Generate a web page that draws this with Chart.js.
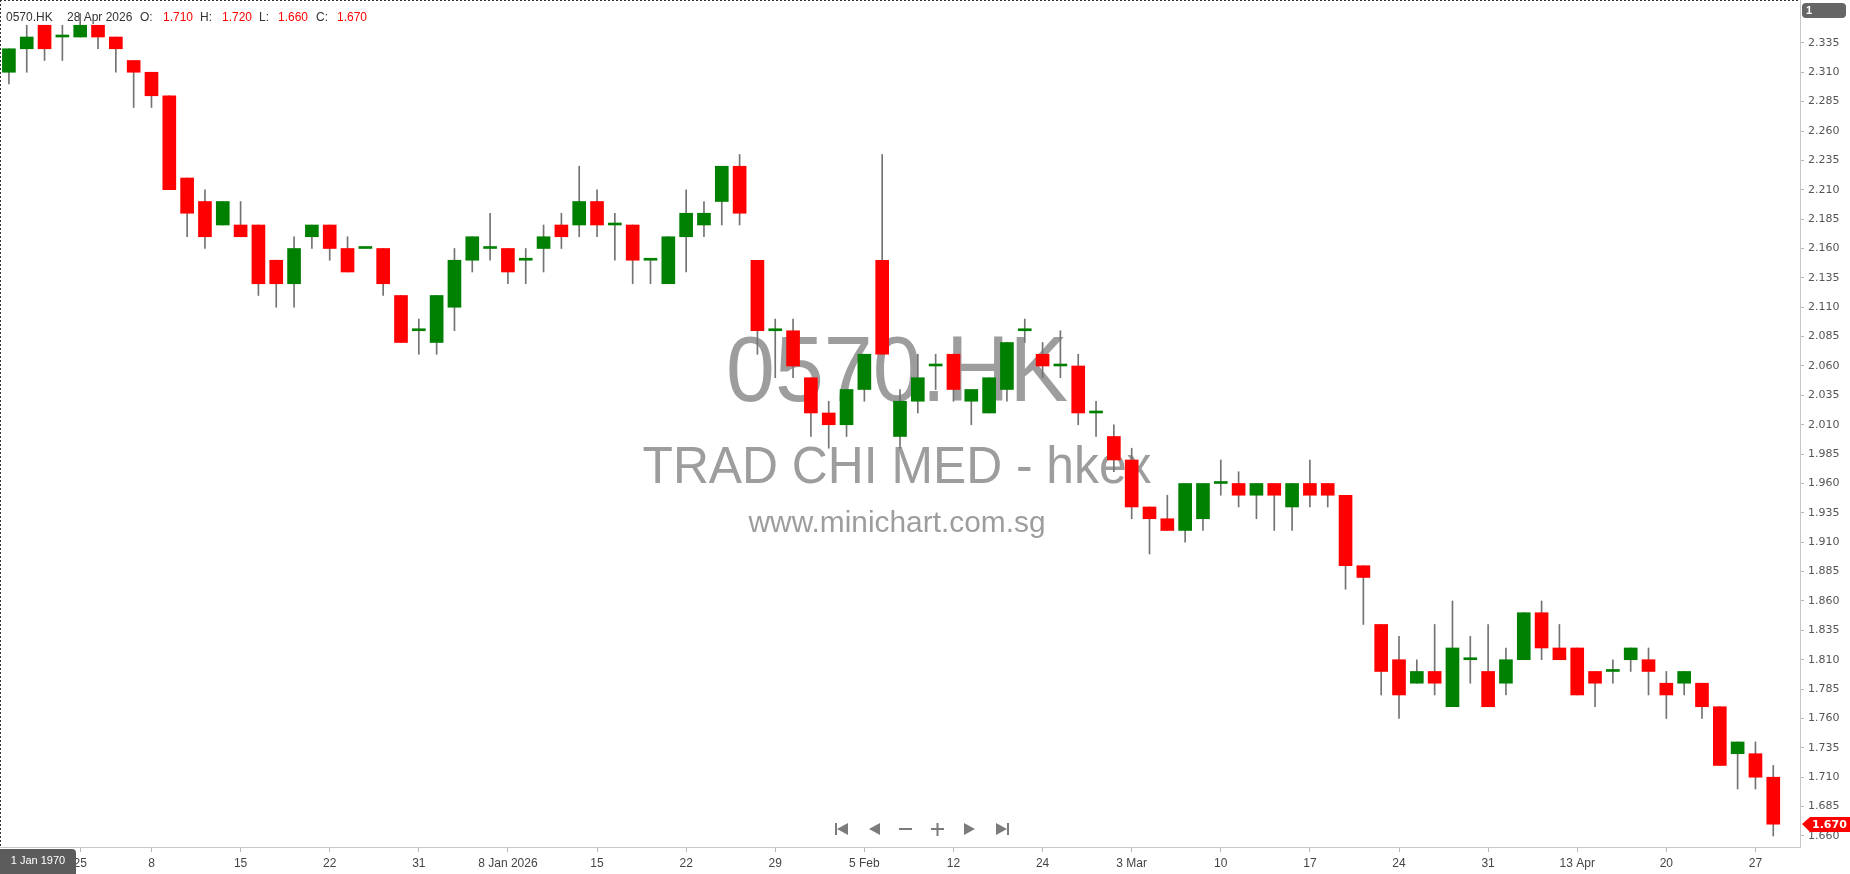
<!DOCTYPE html>
<html>
<head>
<meta charset="utf-8">
<title>0570.HK</title>
<script src="https://cdn.jsdelivr.net/npm/chart.js@4.4.1/dist/chart.umd.min.js"></script>
<style>
  html, body { margin: 0; padding: 0; background: #fff; }
  #wrap { width: 1850px; height: 874px; position: relative; }
</style>
</head>
<body>
<div id="wrap"><canvas id="chart" width="1850" height="874"></canvas></div>
<script>
/* ---------------- DATA ---------------- */

const symbol = "0570.HK";
const lastDate = "28 Apr 2026";

const opens = [
  2.31, 2.33, 2.35, 2.34, 2.34, 2.35, 2.34, 2.32, 2.31, 2.29,
  2.22, 2.20, 2.18, 2.18, 2.18, 2.15, 2.13, 2.17, 2.18, 2.16,
  2.16, 2.16, 2.12, 2.09, 2.08, 2.11, 2.15, 2.16, 2.16, 2.15,
  2.16, 2.18, 2.18, 2.20, 2.18, 2.18, 2.15, 2.13, 2.17, 2.18,
  2.20, 2.23, 2.15, 2.09, 2.09, 2.05, 2.02, 2.01, 2.04, 2.15,
  2.00, 2.03, 2.06, 2.07, 2.03, 2.02, 2.04, 2.09, 2.07, 2.06,
  2.06, 2.02, 2.00, 1.98, 1.94, 1.93, 1.92, 1.93, 1.96, 1.96,
  1.95, 1.96, 1.94, 1.96, 1.96, 1.95, 1.89, 1.84, 1.81, 1.79,
  1.80, 1.77, 1.81, 1.80, 1.79, 1.81, 1.85, 1.82, 1.82, 1.80,
  1.80, 1.81, 1.81, 1.79, 1.79, 1.79, 1.77, 1.73, 1.73, 1.71
];
const highs = [
  2.33, 2.35, 2.35, 2.35, 2.36, 2.35, 2.34, 2.32, 2.31, 2.29,
  2.22, 2.21, 2.20, 2.20, 2.18, 2.15, 2.17, 2.18, 2.18, 2.17,
  2.16, 2.16, 2.12, 2.10, 2.12, 2.16, 2.17, 2.19, 2.16, 2.16,
  2.18, 2.19, 2.23, 2.21, 2.19, 2.18, 2.15, 2.17, 2.21, 2.20,
  2.23, 2.24, 2.15, 2.10, 2.10, 2.05, 2.03, 2.04, 2.07, 2.24,
  2.04, 2.07, 2.07, 2.07, 2.04, 2.05, 2.08, 2.10, 2.08, 2.09,
  2.07, 2.03, 2.01, 1.99, 1.94, 1.95, 1.96, 1.96, 1.98, 1.97,
  1.96, 1.96, 1.96, 1.98, 1.96, 1.95, 1.89, 1.84, 1.83, 1.81,
  1.84, 1.86, 1.83, 1.84, 1.82, 1.85, 1.86, 1.84, 1.82, 1.80,
  1.81, 1.82, 1.82, 1.80, 1.80, 1.79, 1.77, 1.74, 1.74, 1.72
];
const lows = [
  2.30, 2.31, 2.32, 2.32, 2.34, 2.33, 2.31, 2.28, 2.28, 2.21,
  2.17, 2.16, 2.18, 2.17, 2.12, 2.11, 2.11, 2.16, 2.15, 2.14,
  2.16, 2.12, 2.08, 2.07, 2.07, 2.09, 2.14, 2.15, 2.13, 2.13,
  2.14, 2.16, 2.17, 2.17, 2.15, 2.13, 2.13, 2.13, 2.14, 2.17,
  2.18, 2.18, 2.07, 2.05, 2.05, 2.00, 1.99, 2.00, 2.03, 2.07,
  1.99, 2.02, 2.04, 2.03, 2.01, 2.02, 2.03, 2.08, 2.05, 2.05,
  2.01, 2.00, 1.97, 1.93, 1.90, 1.92, 1.91, 1.92, 1.95, 1.94,
  1.93, 1.92, 1.92, 1.94, 1.94, 1.87, 1.84, 1.78, 1.76, 1.79,
  1.78, 1.77, 1.79, 1.77, 1.78, 1.81, 1.81, 1.81, 1.78, 1.77,
  1.79, 1.80, 1.78, 1.76, 1.78, 1.76, 1.72, 1.70, 1.70, 1.66
];
const closes = [
  2.33, 2.34, 2.33, 2.34, 2.35, 2.34, 2.33, 2.31, 2.29, 2.21,
  2.19, 2.17, 2.20, 2.17, 2.13, 2.13, 2.16, 2.18, 2.16, 2.14,
  2.16, 2.13, 2.08, 2.09, 2.12, 2.15, 2.17, 2.16, 2.14, 2.15,
  2.17, 2.17, 2.20, 2.18, 2.18, 2.15, 2.15, 2.17, 2.19, 2.19,
  2.23, 2.19, 2.09, 2.09, 2.06, 2.02, 2.01, 2.04, 2.07, 2.07,
  2.03, 2.05, 2.06, 2.04, 2.04, 2.05, 2.08, 2.09, 2.06, 2.06,
  2.02, 2.02, 1.98, 1.94, 1.93, 1.92, 1.96, 1.96, 1.96, 1.95,
  1.96, 1.95, 1.96, 1.95, 1.95, 1.89, 1.88, 1.80, 1.78, 1.80,
  1.79, 1.82, 1.81, 1.77, 1.81, 1.85, 1.82, 1.81, 1.78, 1.79,
  1.80, 1.82, 1.80, 1.78, 1.80, 1.77, 1.72, 1.74, 1.71, 1.67
];

// date axis: candle slot -> label
const tickPos  = [4, 8, 13, 18, 23, 28, 33, 38, 43, 48, 53, 58, 63, 68, 73, 78, 83, 88, 93, 98];
const tickText = ["25", "8", "15", "22", "31", "8 Jan 2026", "15", "22", "29", "5 Feb",
                  "12", "24", "3 Mar", "10", "17", "24", "31", "13 Apr", "20", "27"];

// price axis
const priceTicks = [
  1.660, 1.685, 1.710, 1.735, 1.760, 1.785, 1.810, 1.835, 1.860, 1.885,
  1.910, 1.935, 1.960, 1.985, 2.010, 2.035, 2.060, 2.085, 2.110, 2.135,
  2.160, 2.185, 2.210, 2.235, 2.260, 2.285, 2.310, 2.335
];
const priceMin = 1.6506;
const priceMax = 2.3715;

const watermark = ["0570.HK", "TRAD CHI MED - hkex", "www.minichart.com.sg"];

/* ---------------- STYLE ---------------- */

const UP = "#008000";
const DOWN = "#ff0000";
const WICK = "#737373";
const AXIS = "#c6c6c6";
const SANS = "'Liberation Sans', Arial, sans-serif";

/* ---------------- BUILD ---------------- */

// one spare slot on the right, like the original
const slots = opens.map((_, i) => String(i)).concat([""]);
const bodies = opens.map((o, i) => [o, closes[i]]);
const wicks = lows.map((l, i) => [l, highs[i]]);
const bodyColor = ctx => closes[ctx.dataIndex] >= opens[ctx.dataIndex] ? UP : DOWN;

/* ---------------- PLUGINS ---------------- */

const underlay = {
  id: "underlay",
  beforeDatasetsDraw(chart) {
    const ctx = chart.ctx;
    ctx.save();

    // watermark
    ctx.fillStyle = "#9d9d9d";
    ctx.textAlign = "center";
    ctx.textBaseline = "alphabetic";
    const marks = [
      { size: 92, base: 401, width: 342 },
      { size: 51, base: 483, width: 509 },
      { size: 30, base: 532, width: 297 }
    ];
    watermark.forEach((t, i) => {
      const m = marks[i];
      ctx.font = m.size + "px " + SANS;
      const w = ctx.measureText(t).width;
      ctx.save();
      ctx.translate(897, m.base);
      ctx.scale(m.width / w, 1);
      ctx.fillText(t, 0, 0);
      ctx.restore();
    });

    // OHLC header
    const n = closes.length - 1;
    const parts = [
      [symbol, "#333", 6],
      [lastDate, "#333", 67],
      ["O:", "#333", 140], [opens[n].toFixed(3), DOWN, 163],
      ["H:", "#333", 200], [highs[n].toFixed(3), DOWN, 222],
      ["L:", "#333", 259], [lows[n].toFixed(3), DOWN, 278],
      ["C:", "#333", 316], [closes[n].toFixed(3), DOWN, 337]
    ];
    ctx.font = "12px " + SANS;
    ctx.textAlign = "left";
    ctx.textBaseline = "middle";
    parts.forEach(p => {
      ctx.fillStyle = p[1];
      ctx.fillText(p[0], p[2], 18);
    });
    ctx.restore();
  }
};

function roundBox(ctx, x, y, w, h, r) {
  ctx.beginPath();
  ctx.roundRect(x, y, w, h, r);
  ctx.fill();
}

function tri(ctx, x, y, dir) {
  ctx.beginPath();
  ctx.moveTo(x, y - 6);
  ctx.lineTo(x + dir * 11, y);
  ctx.lineTo(x, y + 6);
  ctx.closePath();
  ctx.fill();
}

const overlay = {
  id: "overlay",
  afterDraw(chart) {
    const ctx = chart.ctx;
    const area = chart.chartArea;
    ctx.save();

    // dashed frame (top + left)
    ctx.strokeStyle = "#333";
    ctx.lineWidth = 1;
    ctx.setLineDash([2, 2]);
    ctx.beginPath();
    ctx.moveTo(0, 0.5);
    ctx.lineTo(area.right, 0.5);
    ctx.moveTo(0.5, 0);
    ctx.lineTo(0.5, area.bottom);
    ctx.stroke();
    ctx.setLineDash([]);

    // "1" box top right
    ctx.fillStyle = "#666";
    roundBox(ctx, 1802, 3, 44, 15, 4);
    ctx.fillStyle = "#fff";
    ctx.font = "bold 11px " + SANS;
    ctx.textAlign = "left";
    ctx.textBaseline = "middle";
    ctx.fillText("1", 1806, 11);

    // last price tag
    const yScale = chart.scales.y;
    const last = closes[closes.length - 1];
    const py = Math.round(yScale.getPixelForValue(last));
    ctx.fillStyle = DOWN;
    ctx.beginPath();
    ctx.moveTo(1802, py);
    ctx.lineTo(1810, py - 7);
    ctx.lineTo(1850, py - 7);
    ctx.lineTo(1850, py + 8);
    ctx.lineTo(1810, py + 8);
    ctx.closePath();
    ctx.fill();
    ctx.fillStyle = "#fff";
    ctx.font = "bold 11px 'DejaVu Sans', Verdana, sans-serif";
    ctx.fillText(last.toFixed(3), 1812, py + 1);

    // date box bottom left
    ctx.fillStyle = "#5c5c5c";
    roundBox(ctx, 0, 849, 76, 25, [0, 4, 0, 0]);
    ctx.fillStyle = "#fff";
    ctx.font = "11px " + SANS;
    ctx.textAlign = "center";
    ctx.fillText("1 Jan 1970", 38, 861);

    // navigation buttons
    ctx.fillStyle = "#7b7b7b";
    const cy = 829;
    ctx.fillRect(835, cy - 6, 2, 12);
    tri(ctx, 848, cy, -1);
    tri(ctx, 880, cy, -1);
    ctx.fillRect(899, cy - 1, 13, 2);
    ctx.fillRect(931, cy - 1, 13, 2);
    ctx.fillRect(936.5, cy - 6, 2, 13);
    tri(ctx, 964, cy, 1);
    tri(ctx, 996, cy, 1);
    ctx.fillRect(1007, cy - 6, 2, 12);

    ctx.restore();
  }
};

/* ---------------- CHART ---------------- */

new Chart(document.getElementById("chart"), {
  type: "bar",
  data: {
    labels: slots,
    datasets: [
      {
        label: "body",
        data: bodies,
        backgroundColor: bodyColor,
        borderWidth: 0,
        barThickness: 13,
        minBarLength: 2,
        grouped: false,
        order: 0
      },
      {
        label: "wick",
        data: wicks,
        backgroundColor: WICK,
        borderWidth: 0,
        barThickness: 1,
        grouped: false,
        order: 1
      }
    ]
  },
  options: {
    responsive: false,
    animation: false,
    events: [],
    layout: { padding: 0 },
    plugins: {
      legend: { display: false },
      tooltip: { enabled: false }
    },
    scales: {
      x: {
        type: "category",
        offset: true,
        grid: {
          offset: false,
          drawOnChartArea: false,
          tickLength: 5,
          color: "#b8b8b8"
        },
        border: { display: true, color: AXIS },
        ticks: {
          autoSkip: false,
          maxRotation: 0,
          padding: 4,
          color: "#444",
          font: { family: SANS, size: 12 },
          callback: (v, i) => {
            const k = tickPos.indexOf(i);
            return k >= 0 ? tickText[k] : null;
          }
        },
        afterFit: s => { s.height = 27; s.paddingLeft = 0; s.paddingRight = 0; }
      },
      y: {
        position: "right",
        min: priceMin,
        max: priceMax,
        grid: {
          drawOnChartArea: false,
          tickLength: 4,
          color: "#b8b8b8"
        },
        border: { display: true, color: AXIS },
        ticks: {
          padding: 4,
          color: "#555",
          font: { family: "'DejaVu Sans', Verdana, sans-serif", size: 11 },
          callback: v => Number(v).toFixed(3)
        },
        afterBuildTicks: s => { s.ticks = priceTicks.map(v => ({ value: v })); },
        afterFit: s => { s.width = 50; s.paddingTop = 0; s.paddingBottom = 0; }
      }
    }
  },
  plugins: [underlay, overlay]
});
</script>
</body>
</html>
